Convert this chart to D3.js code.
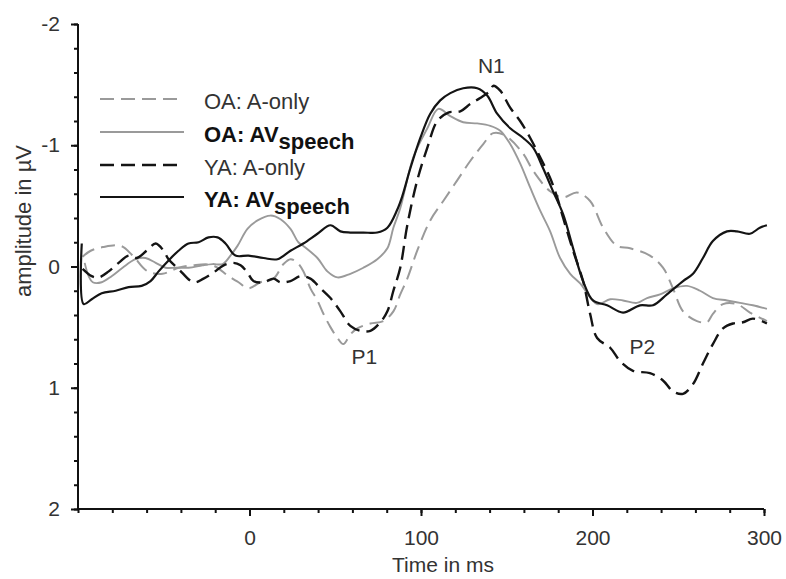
<!DOCTYPE html>
<html>
<head>
<meta charset="utf-8">
<script src="https://cdn.jsdelivr.net/npm/d3@7"></script>
<style>
  html, body { margin: 0; padding: 0; background: #ffffff; }
  svg { display: block; font-family: "Liberation Sans", Arial, Helvetica, sans-serif; }
</style>
</head>
<body>
<svg id="chart" width="786" height="579"></svg>
<script>
// ERP waveforms: [time in ms, amplitude in µV] (negative plotted upward)
const oaAonly = [
  [-97.3,-0.08],[-92.6,-0.13],[-85.6,-0.16],[-75.1,-0.17],[-68.1,-0.09],[-59.4,0.04],
  [-50.7,0.06],[-41.4,0.01],[-33.2,-0.01],[-21.5,-0.01],[-12.2,0.08],[-6.4,0.13],
  [-0.6,0.18],[6.4,0.13],[14.0,0.10],[19.8,-0.02],[23.9,-0.06],[28.0,-0.03],
  [31.4,0.04],[35.5,0.18],[39.6,0.28],[43.1,0.39],[47.2,0.50],[51.3,0.59],
  [54.7,0.64],[58.8,0.56],[62.9,0.51],[70.5,0.47],[78.0,0.45],[83.9,0.37],
  [87.9,0.23],[92.0,0.10],[97.8,-0.13],[105.4,-0.38],[113.0,-0.54],[121.1,-0.71],
  [128.7,-0.87],[136.3,-1.01],[142.1,-1.10],[149.1,-1.08],[159.6,-0.93],[165.4,-0.79],
  [175.3,-0.62],[182.9,-0.57],[191.0,-0.61],[198.6,-0.54],[206.2,-0.32],[214.3,-0.17],
  [221.9,-0.15],[233.5,-0.09],[241.1,0.01],[246.9,0.18],[252.8,0.37],[260.9,0.45],
  [266.7,0.46],[270.2,0.39],[276.1,0.31],[284.2,0.31],[291.8,0.38],[301.7,0.45]
];

const oaAVspeech = [
  [-96.1,-0.03],[-93.8,0.08],[-91.4,0.13],[-86.2,0.13],[-80.4,0.08],[-74.0,0.01],
  [-66.4,-0.06],[-60.6,-0.07],[-54.7,-0.03],[-48.9,0.01],[-43.1,0.01],[-35.5,0.01],
  [-27.4,-0.01],[-21.5,-0.02],[-15.7,-0.02],[-11.1,-0.09],[-7.0,-0.17],[-1.2,-0.31],
  [4.7,-0.38],[12.2,-0.42],[18.1,-0.39],[23.9,-0.31],[28.5,-0.20],[31.4,-0.17],
  [39.6,-0.07],[45.4,0.04],[51.3,0.09],[58.8,0.06],[66.4,0.01],[74.5,-0.06],
  [80.4,-0.15],[83.9,-0.32],[87.9,-0.48],[95.5,-0.90],[103.7,-1.14],[110.1,-1.30],
  [117.1,-1.24],[124.6,-1.19],[132.8,-1.18],[140.4,-1.16],[146.2,-1.12],[152.0,-1.01],
  [157.8,-0.85],[163.7,-0.65],[169.5,-0.46],[175.3,-0.29],[181.1,-0.07],[187.0,0.06],
  [192.8,0.14],[202.7,0.31],[210.3,0.27],[217.8,0.28],[225.9,0.30],[231.8,0.26],
  [239.4,0.23],[246.9,0.18],[255.1,0.16],[262.7,0.20],[270.2,0.26],[278.4,0.28],
  [286.0,0.30],[293.5,0.32],[301.7,0.35]
];

const yaAonly = [
  [-97.3,0.02],[-92.0,0.08],[-87.9,0.09],[-82.1,0.04],[-76.3,-0.03],[-70.5,-0.09],
  [-65.8,-0.07],[-60.0,-0.13],[-54.7,-0.19],[-50.1,-0.13],[-47.2,-0.06],[-41.4,0.02],
  [-32.6,0.13],[-26.8,0.10],[-21.0,0.05],[-15.1,-0.01],[-9.3,-0.03],[-5.2,-0.01],
  [-1.2,0.05],[2.3,0.12],[8.2,0.13],[14.0,0.10],[18.1,0.13],[23.9,0.12],
  [29.7,0.08],[35.5,0.10],[41.4,0.18],[47.2,0.26],[53.0,0.37],[58.8,0.49],
  [64.6,0.53],[70.5,0.53],[76.3,0.46],[80.4,0.37],[83.9,0.20],[87.9,0.01],
  [92.0,-0.34],[97.8,-0.71],[103.7,-0.98],[109.5,-1.20],[115.9,-1.27],[122.9,-1.28],
  [128.7,-1.34],[134.5,-1.39],[140.4,-1.45],[142.1,-1.49],[146.2,-1.45],[152.0,-1.31],
  [157.8,-1.20],[163.7,-1.06],[169.5,-0.90],[175.3,-0.73],[179.4,-0.57],[182.9,-0.40],
  [188.7,-0.13],[194.5,0.12],[198.6,0.39],[202.7,0.59],[210.3,0.67],[216.1,0.78],
  [223.6,0.86],[233.5,0.88],[241.1,0.94],[246.9,1.03],[252.8,1.05],[258.6,0.97],
  [264.4,0.80],[270.2,0.64],[276.1,0.51],[281.9,0.47],[287.7,0.46],[293.5,0.43],
  [301.7,0.47]
];

const yaAVspeech = [
  [-97.8,-0.19],[-96.7,0.31],[-92.0,0.27],[-86.2,0.22],[-78.0,0.20],[-70.5,0.17],
  [-62.9,0.16],[-57.7,0.12],[-53.0,0.04],[-47.2,-0.05],[-41.4,-0.13],[-35.6,-0.19],
  [-29.7,-0.20],[-23.9,-0.24],[-18.6,-0.24],[-14.0,-0.19],[-8.2,-0.09],[-0.6,-0.09],
  [8.2,-0.07],[16.3,-0.06],[23.9,-0.13],[31.4,-0.19],[39.6,-0.27],[47.2,-0.34],
  [53.0,-0.29],[58.8,-0.28],[66.4,-0.28],[74.5,-0.28],[80.4,-0.32],[86.2,-0.47],
  [89.1,-0.58],[93.8,-0.81],[99.6,-1.06],[105.4,-1.26],[111.2,-1.37],[117.1,-1.43],
  [124.6,-1.47],[132.8,-1.47],[138.6,-1.41],[144.4,-1.26],[152.0,-1.14],[159.6,-1.06],
  [165.4,-0.98],[171.2,-0.81],[177.0,-0.62],[182.9,-0.43],[188.7,-0.15],[194.5,0.12],
  [200.3,0.28],[208.5,0.32],[217.8,0.38],[227.7,0.32],[235.3,0.32],[243.4,0.23],
  [252.8,0.12],[258.6,0.06],[264.4,-0.07],[270.2,-0.21],[278.4,-0.29],[284.2,-0.29],
  [291.8,-0.27],[297.6,-0.32],[301.7,-0.34]
];

const xTickLabels = [0, 100, 200, 300];
const yTickLabels = [-2, -1, 0, 1, 2];
const seriesNames = ["OA: A-only", "OA: AV", "YA: A-only", "YA: AV"];
const seriesSub = ["", "speech", "", "speech"];
const peakLabels = [["N1", 141, -1.6], ["P1", 67, 0.8], ["P2", 229, 0.72]];

const svg = d3.select("#chart");
const x = d3.scaleLinear().domain([-100, 300]).range([78, 764]);
const y = d3.scaleLinear().domain([-2, 2]).range([24, 509]);

const styles = [
  { color: "#9a9a9a", width: 2.0, dash: "14,7" },
  { color: "#9a9a9a", width: 1.9, dash: null },
  { color: "#141414", width: 2.4, dash: "14,7" },
  { color: "#141414", width: 2.2, dash: null }
];
const allSeries = [oaAonly, oaAVspeech, yaAonly, yaAVspeech];

// Axes (labels written with a plain hyphen, as in "-1")
const plain = d => String(d);
const axisG = svg.append("g").attr("class", "axes");

const yMajor = d3.axisLeft(y).tickValues(yTickLabels).tickSize(7).tickPadding(11).tickFormat(plain);
const yMinor = d3.axisLeft(y).tickValues(d3.range(-2, 2.001, 0.2)).tickSize(4).tickFormat("");
const xMajor = d3.axisBottom(x).tickValues(xTickLabels).tickSize(7).tickPadding(14).tickFormat(plain);
const xMinor = d3.axisBottom(x).tickValues(d3.range(-100, 300.001, 20)).tickSize(4).tickFormat("");

function styleAxis(g) {
  g.select(".domain").attr("stroke", "#111").attr("stroke-width", 2);
  g.selectAll(".tick line").attr("stroke", "#111").attr("stroke-width", 2);
  g.selectAll(".tick text").attr("fill", "#333").style("font-size", "21px")
    .style("font-family", "'Liberation Sans', Arial, sans-serif");
}

axisG.append("g").attr("transform", `translate(${x(-100)},0)`).call(yMinor).call(styleAxis)
  .select(".domain").remove();
axisG.append("g").attr("transform", `translate(${x(-100)},0)`).call(yMajor).call(styleAxis)
  .select(".domain").attr("d", `M0,${y(-2)}V${y(2)}`);
axisG.append("g").attr("transform", `translate(0,${y(2)})`).call(xMinor).call(styleAxis)
  .select(".domain").remove();
axisG.append("g").attr("transform", `translate(0,${y(2)})`).call(xMajor).call(styleAxis)
  .select(".domain").attr("d", `M${x(-100)},0H${x(300)}`);

// Axis titles
svg.append("text")
  .attr("transform", `translate(31,221) rotate(-90)`)
  .attr("text-anchor", "middle")
  .attr("fill", "#333").style("font-size", "22px")
  .text("amplitude in µV");
svg.append("text")
  .attr("x", 443).attr("y", 572)
  .attr("text-anchor", "middle")
  .attr("fill", "#333").style("font-size", "21px")
  .text("Time in ms");

// Waveforms
const line = d3.line()
  .x(d => x(d[0]))
  .y(d => y(d[1]))
  .curve(d3.curveCatmullRom.alpha(0.5));

svg.append("g").selectAll("path")
  .data(allSeries)
  .join("path")
  .attr("d", d => line(d))
  .attr("fill", "none")
  .attr("stroke", (d, i) => styles[i].color)
  .attr("stroke-width", (d, i) => styles[i].width)
  .attr("stroke-dasharray", (d, i) => styles[i].dash)
  .attr("stroke-linejoin", "round");

// Component labels
svg.append("g").selectAll("text")
  .data(peakLabels)
  .join("text")
  .attr("x", d => x(d[1]))
  .attr("y", d => y(d[2]))
  .attr("text-anchor", "middle")
  .attr("fill", "#333").style("font-size", "21px")
  .text(d => d[0]);

// Legend
const legend = svg.append("g").attr("class", "legend");
const rowY = [99, 132, 165, 197];
seriesNames.forEach((name, i) => {
  legend.append("line")
    .attr("x1", 100).attr("x2", 184)
    .attr("y1", rowY[i]).attr("y2", rowY[i])
    .attr("stroke", styles[i].color)
    .attr("stroke-width", styles[i].width)
    .attr("stroke-dasharray", styles[i].dash);
  const t = legend.append("text")
    .attr("x", 204).attr("y", rowY[i] + 10)
    .attr("fill", seriesSub[i] ? "#111" : "#333")
    .style("font-size", "22px")
    .style("font-weight", seriesSub[i] ? "bold" : "normal");
  t.append("tspan").text(name);
  if (seriesSub[i]) t.append("tspan").attr("dy", 7).text(seriesSub[i]);
});
</script>
</body>
</html>
